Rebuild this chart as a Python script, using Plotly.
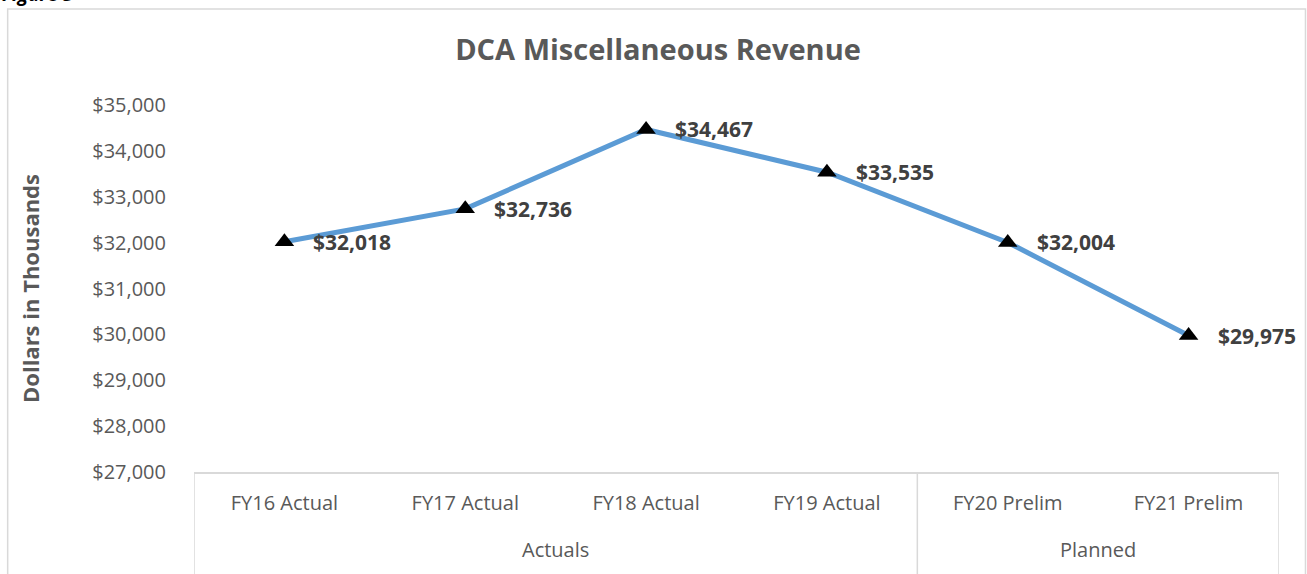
import plotly.graph_objects as go

categories = ["FY16 Actual", "FY17 Actual", "FY18 Actual", "FY19 Actual", "FY20 Prelim", "FY21 Prelim"]
groups = ["Actuals", "Actuals", "Actuals", "Actuals", "Planned", "Planned"]
revenue = [32018, 32736, 34467, 33535, 32004, 29975]
y_ticks = [27000, 28000, 29000, 30000, 31000, 32000, 33000, 34000, 35000]

W, H = 1307, 574
ml, mr, mt, mb = 193.5, 27.5, 105, 102
pw = W - ml - mr
ph = H - mt - mb

GRAY = "#595959"
LINE = "#D9D9D9"
FONT = "Open Sans"

fig = go.Figure()
fig.add_trace(go.Scatter(
    x=categories, y=revenue,
    mode="lines+markers",
    line=dict(color="#5B9BD5", width=5),
    marker=dict(symbol="triangle-up", size=17, color="black"),
    showlegend=False, hoverinfo="skip",
))

for c, v in zip(categories, revenue):
    fig.add_annotation(
        x=c, y=v, text=f"${v:,}", showarrow=False,
        xanchor="left", yanchor="middle", xshift=27,
        font=dict(family=FONT, size=21, color="#404040", weight="bold"),
    )

# group labels and dividers
unique_groups = list(dict.fromkeys(groups))
for g in unique_groups:
    idx = [i for i, gg in enumerate(groups) if gg == g]
    fig.add_annotation(
        x=(idx[0] + idx[-1]) / 2, xref="x", y=0, yref="paper", yshift=-77,
        text=g, showarrow=False, xanchor="center", yanchor="middle",
        font=dict(family=FONT, size=20, color=GRAY),
    )
bounds = [-0.5] + [i + 0.5 for i in range(len(groups)) if i == len(groups) - 1 or groups[i] != groups[i + 1]]
for b in bounds:
    fig.add_shape(type="line", xref="x", yref="paper", x0=b, x1=b,
                  y0=0, y1=-(mb + 5) / ph, line=dict(color=LINE, width=1.5))

# partially visible caption above the chart frame
fig.add_annotation(
    xref="paper", yref="paper", x=(-1 - ml) / pw, y=(H - mb - 9) / ph,
    text="<i><b>Figure 5</b></i>", showarrow=False,
    xanchor="left", yanchor="bottom",
    font=dict(family=FONT, size=19, color="black"),
)

# outer chart frame
fig.add_shape(type="rect", xref="paper", yref="paper",
              x0=(7 - ml) / pw, x1=(W - 1 - ml) / pw,
              y0=(-mb - 10) / ph, y1=(ph + mt - 9) / ph,
              line=dict(color=LINE, width=1.5), layer="below")

fig.update_layout(
    width=W, height=H,
    margin=dict(l=ml, r=mr, t=mt, b=mb, autoexpand=False),
    paper_bgcolor="white", plot_bgcolor="white",
    title=dict(text="<b>DCA Miscellaneous Revenue</b>", x=(658 - 0) / W, xanchor="center",
               y=1 - 50 / H, yanchor="middle",
               font=dict(family=FONT, size=29, color=GRAY)),
    xaxis=dict(
        type="category", range=[-0.5, len(categories) - 0.5],
        showline=True, linecolor=LINE, linewidth=1.5,
        showgrid=False, ticks="", ticklabelstandoff=12,
        tickfont=dict(family=FONT, size=20, color=GRAY),
        automargin=False,
    ),
    yaxis=dict(
        range=[27000, 35000], tickvals=y_ticks,
        ticktext=[f"${t:,}" for t in y_ticks],
        showgrid=False, zeroline=False, showline=False,
        tickfont=dict(family=FONT, size=20, color=GRAY),
        ticklabelstandoff=27, automargin=False,
        title=dict(text="<b>Dollars in Thousands</b>", standoff=46,
                   font=dict(family=FONT, size=22, color=GRAY)),
    ),
)

fig.write_html("out.html", config={"displayModeBar": False},
               post_script="document.body.style.margin='0';document.body.style.padding='0';")
